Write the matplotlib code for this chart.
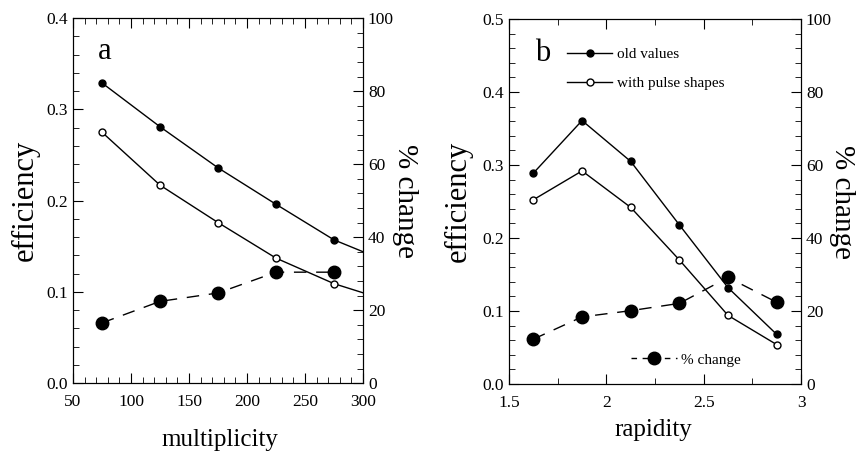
import matplotlib
matplotlib.use('Agg')
import matplotlib.pyplot as plt
from matplotlib.ticker import MultipleLocator
from matplotlib.lines import Line2D

plt.rcParams['font.family'] = ['Liberation Serif', 'DejaVu Serif']

# panel a : efficiency vs multiplicity
mult = [75, 125, 175, 225, 275]
mult_old = [0.329, 0.281, 0.236, 0.196, 0.157]
mult_new = [0.275, 0.217, 0.176, 0.137, 0.109]
mult_pct = [16.5, 22.4, 24.7, 30.4, 30.4]
# fitted curves drawn through the points out to the edge
mult_fit_x = [75, 125, 175, 225, 275, 300]
mult_fit_old = [0.329, 0.281, 0.236, 0.196, 0.157, 0.144]
mult_fit_new = [0.275, 0.217, 0.176, 0.137, 0.109, 0.099]

# panel b : efficiency vs rapidity
rap = [1.625, 1.875, 2.125, 2.375, 2.625, 2.875]
rap_old = [0.289, 0.361, 0.305, 0.218, 0.132, 0.068]
rap_new = [0.2525, 0.292, 0.242, 0.170, 0.094, 0.054]
rap_pct = [12.3, 18.4, 20.1, 22.1, 29.2, 22.4]

fig = plt.figure(figsize=(8.57, 4.55), dpi=100)
ax1 = fig.add_axes([0.0852, 0.158, 0.3384, 0.802])
ax2 = fig.add_axes([0.594, 0.156, 0.3407, 0.802])

def style(ax, tw, xmaj, xmin, ymaj, ymin, lab_x, rlab_x):
	ax.xaxis.set_major_locator(MultipleLocator(xmaj))
	ax.xaxis.set_minor_locator(MultipleLocator(xmin))
	ax.yaxis.set_major_locator(MultipleLocator(ymaj))
	ax.yaxis.set_minor_locator(MultipleLocator(ymin))
	ax.tick_params(which='both', direction='in', top=True, labelsize=12.5)
	ax.tick_params(which='major', length=7)
	ax.tick_params(which='minor', length=4)
	ax.tick_params(axis='x', pad=8)
	tw.yaxis.set_major_locator(MultipleLocator(20))
	tw.yaxis.set_minor_locator(MultipleLocator(4))
	tw.tick_params(which='both', direction='in', labelsize=12.5)
	tw.tick_params(which='major', length=7)
	tw.tick_params(which='minor', length=4)
	ax.set_ylabel('efficiency', fontsize=22, va='center')
	ax.yaxis.set_label_coords(lab_x, 0.5)
	tw.set_ylabel('% change', fontsize=21, rotation=270, va='center')
	tw.yaxis.set_label_coords(rlab_x, 0.5)

# --- panel a ---
tw1 = ax1.twinx()
ax1.plot(mult_fit_x, mult_fit_old, '-', color='black', lw=1)
ax1.plot(mult_fit_x, mult_fit_new, '-', color='black', lw=1)
ax1.plot(mult, mult_old, 'o', color='black', ms=5)
ax1.plot(mult, mult_new, 'o', color='black', mfc='white', ms=5)
tw1.plot(mult, mult_pct, '--o', color='black', ms=9, lw=1, dashes=(9, 7))
ax1.set_xlim(50, 300)
ax1.set_ylim(0, 0.4)
tw1.set_ylim(0, 100)
style(ax1, tw1, 50, 10, 0.1, 0.02, -0.166, 1.145)
ax1.set_xlabel('multiplicity', fontsize=18, va='center')
ax1.xaxis.set_label_coords(0.507, -0.156)
ax1.text(0.085, 0.91, 'a', transform=ax1.transAxes, fontsize=22, va='center')

# --- panel b ---
tw2 = ax2.twinx()
h_old, = ax2.plot(rap, rap_old, '-o', color='black', ms=5, lw=1)
h_new, = ax2.plot(rap, rap_new, '-o', color='black', mfc='white', ms=5, lw=1)
tw2.plot(rap, rap_pct, '--o', color='black', ms=9, lw=1, dashes=(9, 7))
ax2.set_xlim(1.5, 3)
ax2.set_ylim(0, 0.5)
tw2.set_ylim(0, 100)
style(ax2, tw2, 0.5, 0.25, 0.1, 0.02, -0.175, 1.14)
ax2.set_xticks([1.5, 2, 2.5, 3])
ax2.set_xticklabels(['1.5', '2', '2.5', '3'])
ax2.set_xlabel('rapidity', fontsize=18, va='center')
ax2.xaxis.set_label_coords(0.493, -0.126)
ax2.text(0.09, 0.905, 'b', transform=ax2.transAxes, fontsize=22, va='center')

leg = tw2.legend([h_old, h_new], ['old values', 'with pulse shapes'], loc='upper left',
	bbox_to_anchor=(0.15, 0.96), frameon=False,
	fontsize=11, handlelength=3, labelspacing=1.0, handletextpad=0.3)
tw2.add_artist(leg)
pct_handle = Line2D([], [], ls='--', marker='o', color='black', ms=9, lw=1, dashes=(4, 4))
tw2.legend([pct_handle], ['% change'], loc='lower left', bbox_to_anchor=(0.37, 0.01),
	frameon=False, fontsize=11, handlelength=3, handletextpad=0.3)

fig.savefig('out.png', dpi=100)
